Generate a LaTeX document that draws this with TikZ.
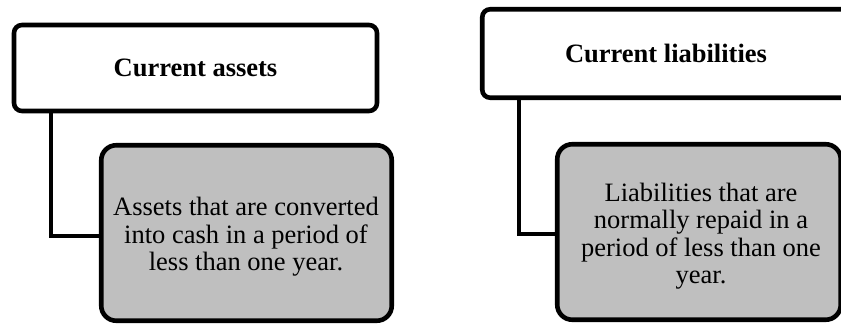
\documentclass[tikz,border=0pt]{standalone}
\usepackage{fontspec}
\setmainfont{Liberation Serif}
\definecolor{boxgray}{RGB}{191,191,191}
\begin{document}
\begin{tikzpicture}[x=1pt,y=-1pt,
  headbox/.style={draw=black, line width=4.6pt, rounded corners=8pt, fill=white,
    inner sep=0pt, font=\fontsize{26.5}{27.3}\selectfont\bfseries},
  descbox/.style={draw=black, line width=4.6pt, rounded corners=15pt, fill=boxgray,
    inner sep=0pt},
  desctext/.style={align=center, inner sep=0pt, font=\fontsize{26.5}{27.3}\selectfont},
  conn/.style={draw=black, line width=4.6pt}]
\useasboundingbox (0,0) rectangle (841,324);
\clip (0,0) rectangle (841,324);
% left group
\node[headbox, minimum width=363pt, minimum height=86pt] (ta) at (195.5,68) {Current assets};
\node[descbox, minimum width=290.5pt, minimum height=175.5pt] (ga) at (246.5,233) {};
\node[desctext] (gat) at (246,236.9) {Assets that are converted\\into cash in a period of\\less than one year.};
\coordinate (cl) at (51,236);
\draw[conn] (ta.south -| cl) |- (cl -| ga.west);
% right group
\node[headbox, minimum width=367.5pt, minimum height=88.5pt] (tb) at (666,53.5) {Current liabilities};
\node[descbox, minimum width=283.5pt, minimum height=175.5pt] (gb) at (699,232) {};
\node[desctext] (gbt) at (701,236.1) {Liabilities that are\\normally repaid in a\\period of less than one\\year.};
\coordinate (cr) at (519,234);
\draw[conn] (tb.south -| cr) |- (cr -| gb.west);
\end{tikzpicture}
\end{document}
